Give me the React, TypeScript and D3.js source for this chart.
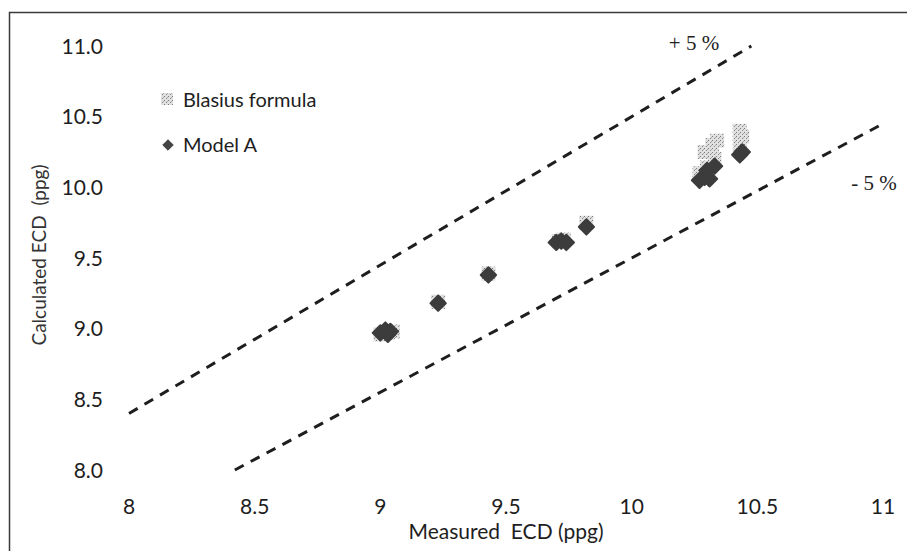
import React from "react";
import * as d3 from "d3";

// ---- data ----
const xTicks = [8, 8.5, 9, 9.5, 10, 10.5, 11];
const xTickLabels = ["8", "8.5", "9", "9.5", "10", "10.5", "11"];
const yTicks = [8, 8.5, 9, 9.5, 10, 10.5, 11];
const yTickLabels = ["8.0", "8.5", "9.0", "9.5", "10.0", "10.5", "11.0"];

const blasiusMeasured = [9.0, 9.03, 9.05, 9.23, 9.43, 9.71, 9.73, 9.82, 10.27, 10.3, 10.33, 10.29, 10.32, 10.34, 10.43, 10.44, 10.43];
const blasiusCalculated = [8.96, 8.97, 8.98, 9.19, 9.39, 9.62, 9.63, 9.75, 10.1, 10.14, 10.2, 10.25, 10.3, 10.33, 10.3, 10.36, 10.4];

const modelAMeasured = [9.0, 9.02, 9.04, 9.03, 9.23, 9.43, 9.7, 9.72, 9.74, 9.82, 10.27, 10.29, 10.31, 10.3, 10.33, 10.43, 10.44];
const modelACalculated = [8.97, 8.99, 8.98, 8.96, 9.18, 9.38, 9.61, 9.62, 9.61, 9.72, 10.05, 10.07, 10.06, 10.12, 10.15, 10.23, 10.25];

const guideFactors = [1.05, 0.95];
const guideLabels = ["+ 5 %", "- 5 %"];

const seriesNames = ["Blasius formula", "Model A"];

const xTitle = "Measured  ECD (ppg)";
const yTitle = "Calculated ECD  (ppg)";

// ---- layout ----
const W = 907;
const H = 551;
const FONT = "Lato, 'Open Sans', sans-serif";

export default function App() {
  const x = d3.scaleLinear().domain([8, 11]).range([129, 883]);
  const y = d3.scaleLinear().domain([8, 11]).range([470, 46]);

  const [xMin, xMax] = x.domain();
  const [yMin, yMax] = y.domain();

  const guides = guideFactors.map((f) => {
    const x0 = Math.max(xMin, yMin / f);
    const x1 = Math.min(xMax, yMax / f);
    const line = d3
      .line<number>()
      .x((v) => x(v))
      .y((v) => y(v * f));
    return { f, path: line([x0, x1]) as string };
  });

  const diamond = d3.symbol().type(d3.symbolDiamond2).size(150)() as string;
  const legendDiamond = d3.symbol().type(d3.symbolDiamond2).size(70)() as string;

  const blasius = blasiusMeasured.map((m, i) => ({ m, c: blasiusCalculated[i] }));
  const modelA = modelAMeasured.map((m, i) => ({ m, c: modelACalculated[i] }));

  return (
    <svg
      width={W}
      height={H}
      style={{ position: "absolute", left: 0, top: 0, background: "#fff" }}
      fontFamily={FONT}
    >
      <defs>
        <pattern id="stip" width="4" height="4" patternUnits="userSpaceOnUse">
          <rect width="4" height="4" fill="#e0e0e0" />
          <rect x="0" y="0" width="1" height="1" fill="#7a7a7a" />
          <rect x="2" y="2" width="1" height="1" fill="#8a8a8a" />
          <rect x="3" y="1" width="1" height="1" fill="#aaaaaa" />
        </pattern>
      </defs>

      {/* frame */}
      <path d={`M9.5,${H} V12.5 H${W}`} fill="none" stroke="#3a3a3a" strokeWidth={1.5} />

      {/* y tick labels */}
      {yTicks.map((t, i) => (
        <text
          key={"yt" + i}
          x={103}
          y={y(t)}
          dy="0.36em"
          textAnchor="end"
          fontSize={21}
          fill="#1e1e1e"
        >
          {yTickLabels[i]}
        </text>
      ))}

      {/* x tick labels */}
      {xTicks.map((t, i) => (
        <text key={"xt" + i} x={x(t)} y={514} textAnchor="middle" fontSize={21} fill="#1e1e1e">
          {xTickLabels[i]}
        </text>
      ))}

      {/* axis titles */}
      <text
        x={506}
        y={539}
        textAnchor="middle"
        fontSize={21}
        fill="#1e1e1e"
        style={{ whiteSpace: "pre" }}
      >
        {xTitle}
      </text>
      <text
        transform={`translate(46,255) rotate(-90)`}
        textAnchor="middle"
        fontSize={19}
        fill="#333"
        style={{ whiteSpace: "pre" }}
      >
        {yTitle}
      </text>

      {/* guide lines */}
      {guides.map((g, i) => (
        <path
          key={"g" + i}
          d={g.path}
          fill="none"
          stroke="#1e1e1e"
          strokeWidth={3}
          strokeDasharray="10 8"
        />
      ))}
      <text x={694} y={50} textAnchor="middle" fontSize={21} fontFamily="'Liberation Serif', serif" fill="#222" style={{ whiteSpace: "pre" }}>
        {guideLabels[0]}
      </text>
      <text x={874} y={190} textAnchor="middle" fontSize={21} fontFamily="'Liberation Serif', serif" fill="#222" style={{ whiteSpace: "pre" }}>
        {guideLabels[1]}
      </text>

      {/* Blasius series */}
      {blasius.map((p, i) => (
        <rect
          key={"b" + i}
          x={x(p.m) - 7}
          y={y(p.c) - 7}
          width={14}
          height={14}
          fill="url(#stip)"
        />
      ))}

      {/* Model A series */}
      {modelA.map((p, i) => (
        <path
          key={"a" + i}
          d={diamond}
          transform={`translate(${x(p.m)},${y(p.c)})`}
          fill="#3c3c3c"
          stroke="#3c3c3c"
          strokeWidth={2}
          strokeLinejoin="round"
        />
      ))}

      {/* legend */}
      <rect x={161} y={93} width={12} height={12} fill="url(#stip)" />
      <text x={183} y={107} fontSize={20} fill="#1e1e1e">
        {seriesNames[0]}
      </text>
      <path d={legendDiamond} transform="translate(168,145)" fill="#444" stroke="#444" strokeWidth={1} strokeLinejoin="round" />
      <text x={183} y={152} fontSize={20} fill="#1e1e1e">
        {seriesNames[1]}
      </text>
    </svg>
  );
}
